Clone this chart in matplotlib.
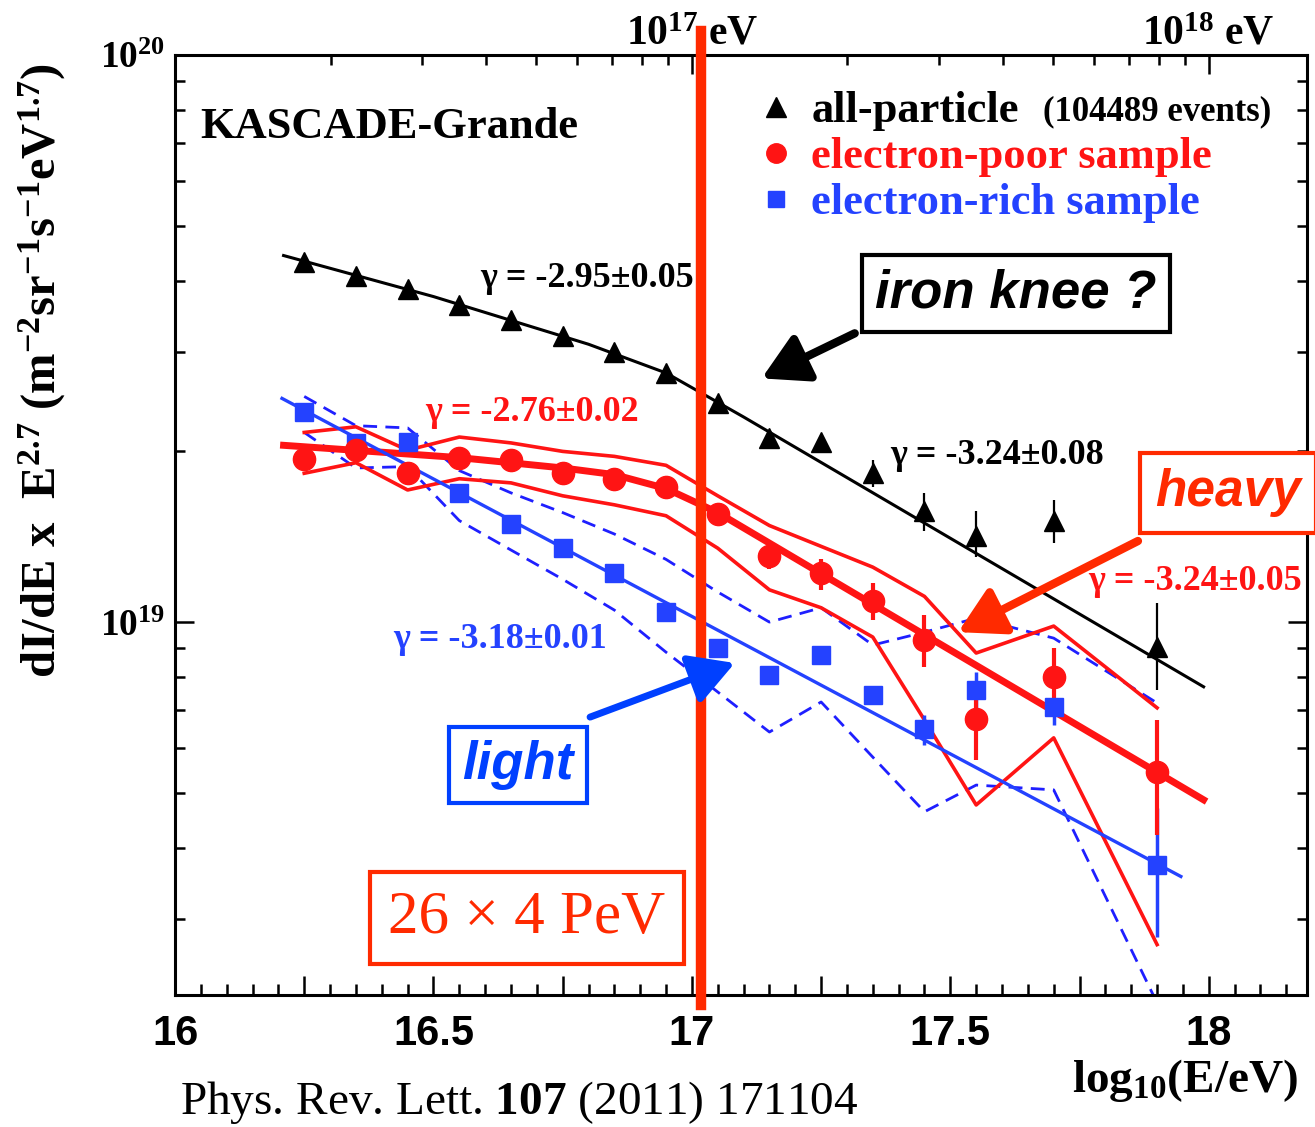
import numpy as np
import matplotlib
matplotlib.use('Agg')
import matplotlib.pyplot as plt
from matplotlib.lines import Line2D
from matplotlib.ticker import MultipleLocator, LogLocator, FuncFormatter, NullFormatter, FixedLocator

plt.rcParams['font.family'] = ['Liberation Serif', 'DejaVu Serif']
plt.rcParams['font.weight'] = 'bold'
plt.rcParams['mathtext.fontset'] = 'custom'
plt.rcParams['mathtext.default'] = 'regular'
plt.rcParams['mathtext.rm'] = 'Liberation Serif'
plt.rcParams['mathtext.bf'] = 'Liberation Serif:bold'

# --- data (flux values in units of 1e18 m^-2 sr^-1 s^-1 eV^1.7) ---
log_e = [16.25, 16.35, 16.45, 16.55, 16.65, 16.75, 16.85, 16.95,
         17.05, 17.15, 17.25, 17.35, 17.45, 17.55, 17.70, 17.90]

all_part = [43.1, 40.8, 38.7, 36.3, 34.1, 31.9, 30.0, 27.5,
            24.3, 21.1, 20.8, 18.3, 15.7, 14.2, 15.1, 9.04]
all_hi = [43.1, 40.8, 38.7, 36.3, 34.1, 31.9, 30.0, 27.5,
          24.3, 21.1, 20.8, 19.3, 16.9, 15.7, 16.4, 10.8]
all_lo = [43.1, 40.8, 38.7, 36.3, 34.1, 31.9, 30.0, 27.5,
          24.3, 21.1, 20.8, 17.3, 14.5, 13.0, 13.8, 7.59]

e_poor = [19.4, 20.1, 18.3, 19.5, 19.3, 18.3, 17.9, 17.3,
          15.5, 13.1, 12.2, 10.9, 9.29, 6.75, 8.00, 5.45]
poor_hi = [19.4, 20.1, 18.3, 19.5, 19.3, 18.3, 17.9, 17.3,
           15.5, 13.8, 12.9, 11.7, 10.3, 7.74, 9.00, 6.71]
poor_lo = [19.4, 20.1, 18.3, 19.5, 19.3, 18.3, 17.9, 17.3,
           15.5, 12.4, 11.4, 10.1, 8.34, 5.71, 7.30, 4.22]

e_rich = [23.5, 20.7, 20.8, 16.9, 14.9, 13.5, 12.2, 10.4,
          9.00, 8.07, 8.75, 7.43, 6.49, 7.59, 7.08, 3.73]
rich_hi = [23.5, 20.7, 20.8, 16.9, 14.9, 13.5, 12.2, 10.4,
           9.00, 8.07, 8.75, 7.70, 6.85, 8.17, 7.35, 4.71]
rich_lo = [23.5, 20.7, 20.8, 16.9, 14.9, 13.5, 12.2, 10.4,
           9.00, 8.07, 8.75, 7.25, 6.07, 7.06, 6.59, 2.78]

# systematic bands
poor_sys_hi = [21.6, 22.1, 20.1, 21.2, 20.7, 20.0, 19.6, 18.9,
               16.7, 14.8, 13.6, 12.5, 11.1, 8.82, 9.84, 7.06]
poor_sys_lo = [18.3, 19.1, 17.1, 17.9, 17.6, 16.7, 16.1, 15.4,
               13.5, 11.4, 10.6, 9.41, 6.72, 4.76, 6.25, 2.70]
rich_sys_hi = [25.0, 22.2, 22.0, 18.5, 16.9, 15.6, 14.3, 12.9,
               11.3, 10.0, 10.6, 9.11, 9.60, 10.16, 9.37, 7.20]
rich_sys_lo = [21.6, 18.7, 18.8, 15.1, 13.4, 11.9, 10.5, 8.85,
               7.53, 6.40, 7.23, 5.78, 4.63, 5.16, 5.06, 2.13]

# fitted spectra
fit_all_x = [16.21, 16.5, 16.8, 16.95, 17.1, 17.99]
fit_all_y = [44.3, 37.5, 30.9, 27.5, 23.0, 7.69]
fit_poor_x = [16.21, 16.55, 16.75, 16.85, 16.95, 17.05, 17.99]
fit_poor_y = [20.5, 19.5, 18.7, 18.2, 17.2, 15.6, 4.86]
fit_rich_x = [16.207, 17.946]
fit_rich_y = [24.8, 3.56]

UNIT = 1e18
RED = '#ff1414'
ORANGE = '#ff2a00'
BLUE = '#2442ff'
BLUE_D = '#1f1fff'
LBLUE = '#0040ff'


def flux(v):
    return np.array(v) * UNIT


def yerr(val, lo, hi):
    v = np.array(val)
    return [(v - np.array(lo)) * UNIT, (np.array(hi) - v) * UNIT]


fig = plt.figure(figsize=(13.15, 11.27), dpi=100)
ax = fig.add_axes([0.1331, 0.1171, 0.8608, 0.8341])
ax.set_yscale('log')
ax.set_xlim(16, 18.19)
ax.set_ylim(2.2e18, 1e20)

dash = (0, (5, 3))
ax.plot(log_e, flux(rich_sys_hi), color=BLUE_D, lw=2.0, ls=dash, zorder=2)
ax.plot(log_e, flux(rich_sys_lo), color=BLUE_D, lw=2.0, ls=dash, zorder=2)
ax.plot(log_e, flux(poor_sys_hi), color=RED, lw=2.6, zorder=2)
ax.plot(log_e, flux(poor_sys_lo), color=RED, lw=2.6, zorder=2)

ax.plot(fit_all_x, flux(fit_all_y), color='k', lw=2.2, zorder=3)
ax.plot(fit_poor_x, flux(fit_poor_y), color=RED, lw=5, zorder=3)
ax.plot(fit_rich_x, flux(fit_rich_y), color=BLUE, lw=2.4, zorder=3)

ax.errorbar(log_e, flux(all_part), yerr=yerr(all_part, all_lo, all_hi), fmt='^',
            ms=14, color='k', ecolor='k', elinewidth=1.6, capsize=0, zorder=4)
ax.errorbar(log_e, flux(e_rich), yerr=yerr(e_rich, rich_lo, rich_hi), fmt='s',
            ms=13, color=BLUE, ecolor=BLUE, elinewidth=2.5, capsize=0, zorder=4)
ax.errorbar(log_e, flux(e_poor), yerr=yerr(e_poor, poor_lo, poor_hi), fmt='o',
            ms=16, color=RED, ecolor=RED, elinewidth=3, capsize=0, zorder=4)

# 26 x 4 PeV marker line
ax.axvline(np.log10(26 * 4e15), ymin=-0.011, ymax=1.025, color=ORANGE, lw=7.5,
           clip_on=False, zorder=5)

# axes styling
for sp in ax.spines.values():
    sp.set_linewidth(2.2)
ax.spines['top'].set_visible(False)

ax.xaxis.set_major_locator(MultipleLocator(0.25))
ax.xaxis.set_minor_locator(MultipleLocator(0.05))
ax.xaxis.set_major_formatter(FuncFormatter(
    lambda v, p: ('%g' % v) if abs(v * 2 - round(v * 2)) < 1e-6 else ''))
ax.yaxis.set_major_locator(LogLocator(base=10))
ax.yaxis.set_minor_locator(LogLocator(base=10, subs=np.arange(2, 10)))
ax.yaxis.set_major_formatter(FuncFormatter(lambda v, p: r'$10^{%d}$' % round(np.log10(v))))
ax.yaxis.set_minor_formatter(NullFormatter())

ax.tick_params(axis='x', which='major', direction='in', length=14, width=1.8,
               labelsize=30, pad=14, labelfontfamily='Liberation Sans')
ax.tick_params(axis='x', which='minor', direction='in', length=8, width=1.8)
ax.tick_params(axis='y', which='major', direction='in', length=14, width=1.8,
               labelsize=27, pad=7, right=True)
ax.tick_params(axis='y', which='minor', direction='in', length=7, width=1.8, right=True)

top = ax.secondary_xaxis('top')
top.spines['top'].set_linewidth(2.2)
top.xaxis.set_major_locator(FixedLocator([17, 18]))
top_minor = [np.log10(k * 10.0 ** d) for d in (16, 17) for k in range(2, 10)]
top.xaxis.set_minor_locator(FixedLocator(top_minor))
top.xaxis.set_major_formatter(FuncFormatter(lambda v, p: r'$10^{%d}$ eV' % round(v)))
top.tick_params(which='major', direction='in', length=14, width=1.8, labelsize=30, pad=1)
top.tick_params(which='minor', direction='in', length=7, width=1.8)

# legend
handles = [Line2D([], [], ls='none', marker='^', color='k', ms=14),
           Line2D([], [], ls='none', marker='o', color=RED, ms=14),
           Line2D([], [], ls='none', marker='s', color=BLUE, ms=12)]
labels = ['all-particle', 'electron-poor sample', 'electron-rich sample']
ax.legend(handles, labels, loc='upper left', bbox_to_anchor=(0.5115, 0.9617),
          frameon=False, prop=dict(family='Liberation Serif', weight='bold', size=32),
          labelcolor=['k', RED, BLUE], handlelength=1.0, handletextpad=0.29,
          labelspacing=0.135, borderpad=0, borderaxespad=0)
ax.text(0.7668, 0.9394, '(104489 events)', transform=ax.transAxes, ha='left',
        va='center', fontsize=25)

ax.text(0.022, 0.923, 'KASCADE-Grande', transform=ax.transAxes, ha='left',
        va='center', fontsize=32)

# spectral indices
gam = dict(fontsize=26, ha='left', va='center', zorder=4)
ax.text(16.59, 4.03e19, u'\u03b3 = -2.95\u00b10.05', color='k', **gam)
ax.text(16.4836, 2.34e19, u'\u03b3 = -2.76\u00b10.02', color=RED, **gam)
ax.text(17.383, 1.97e19, u'\u03b3 = -3.24\u00b10.08', color='k', **gam)
ax.text(17.766, 1.18e19, u'\u03b3 = -3.24\u00b10.05', color=RED, clip_on=False, **gam)
ax.text(16.4217, 9.30e18, u'\u03b3 = -3.18\u00b10.01', color=BLUE, **gam)

# annotation boxes and arrows
sans_bi = dict(family='Liberation Sans', weight='bold', style='italic')
ax.text(17.627, 3.80e19, 'iron knee ?', ha='center', va='center', fontsize=38,
        color='k', zorder=6, bbox=dict(boxstyle='square,pad=0.25', fc='white', ec='k', lw=3),
        **sans_bi)
ax.annotate('', xy=(17.135, 2.69e19), xytext=(17.315, 3.23e19), zorder=6,
            arrowprops=dict(arrowstyle='-|>,head_length=0.8,head_width=0.45', lw=6,
                            color='k', shrinkA=0, shrinkB=0, mutation_scale=34))

ax.text(18.037, 1.69e19, 'heavy', ha='center', va='center', fontsize=37,
        color=ORANGE, zorder=6, clip_on=False,
        bbox=dict(boxstyle='square,pad=0.3', fc='white', ec=ORANGE, lw=3), **sans_bi)
ax.annotate('', xy=(17.515, 9.60e18), xytext=(17.863, 1.39e19), zorder=6,
            arrowprops=dict(arrowstyle='-|>,head_length=0.8,head_width=0.45', lw=6,
                            color=ORANGE, shrinkA=0, shrinkB=0, mutation_scale=34))

ax.text(16.663, 5.60e18, 'light', ha='center', va='center', fontsize=38,
        color=LBLUE, zorder=6,
        bbox=dict(boxstyle='square,pad=0.25', fc='white', ec=LBLUE, lw=3), **sans_bi)
ax.annotate('', xy=(17.083, 8.47e18), xytext=(16.803, 6.80e18), zorder=6,
            arrowprops=dict(arrowstyle='-|>,head_length=0.8,head_width=0.45', lw=5,
                            color=LBLUE, shrinkA=0, shrinkB=0, mutation_scale=34))

ax.text(16.681, 3.01e18, u'26 \u00d7 4 PeV', ha='center', va='center', fontsize=44,
        weight='normal', color=ORANGE, zorder=6,
        bbox=dict(boxstyle='square,pad=0.3', fc='white', ec=ORANGE, lw=3))

# axis titles and reference
fig.text(42 / 1315, 1 - 370 / 1127,
         r'dI/dE x  E$^{2.7}$ (m$^{-2}$sr$^{-1}$s$^{-1}$eV$^{1.7}$)',
         rotation=90, ha='center', va='center', fontsize=35)
fig.text(0.987, 1 - 1080 / 1127, r'log$_{10}$(E/eV)', ha='right', va='center', fontsize=34)
fig.text(180 / 1315, 1 - 1102 / 1127, r'Phys. Rev. Lett. $\mathbf{107}$ (2011) 171104',
         ha='left', va='center', fontsize=34, weight='normal')

fig.savefig('out.png', dpi=100)
